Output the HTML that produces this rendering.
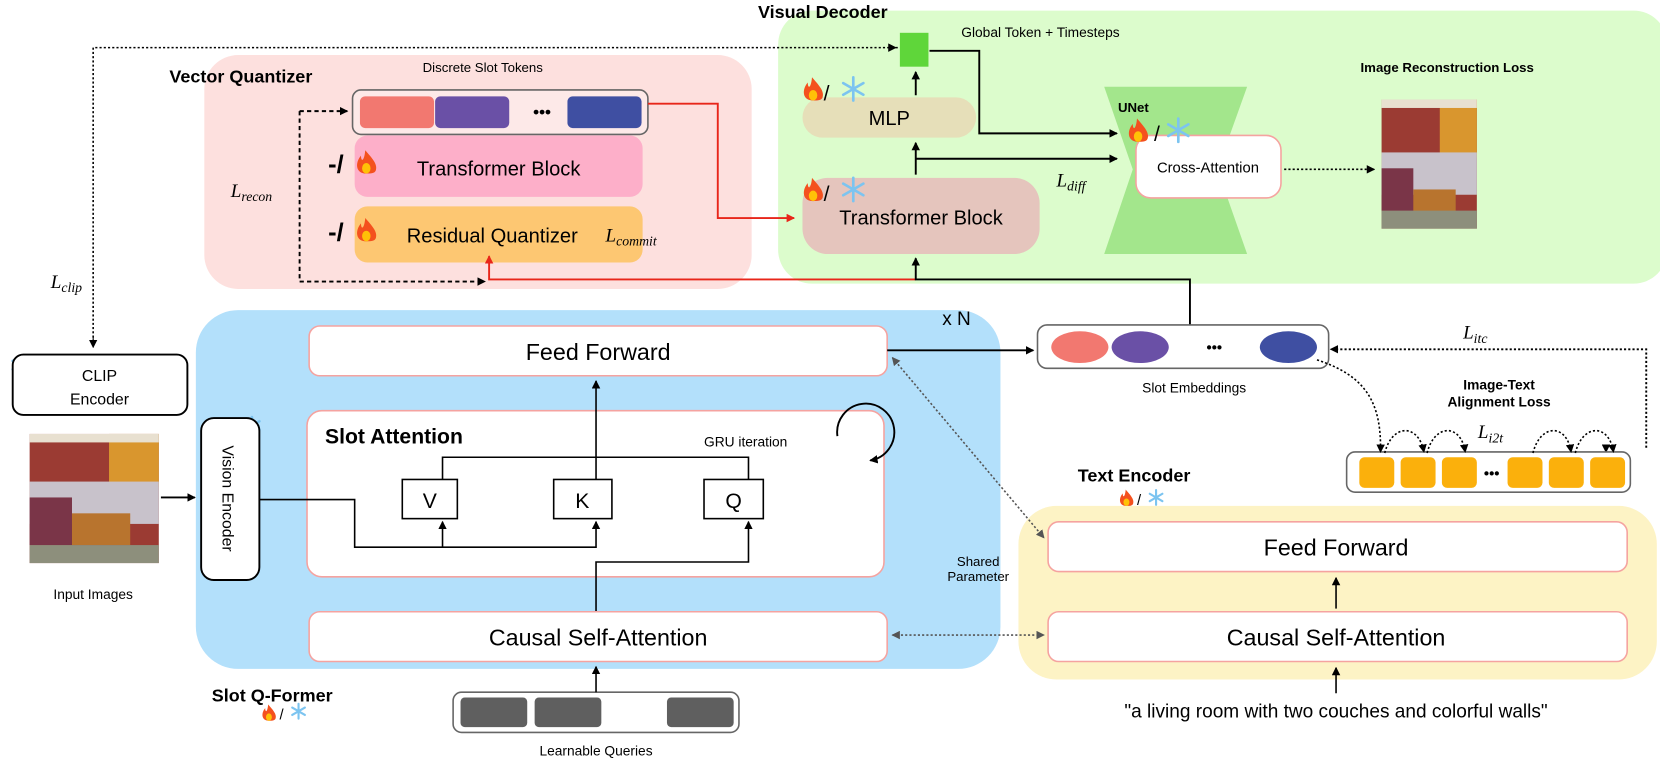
<!DOCTYPE html>
<html><head><meta charset="utf-8"><style>
html,body{margin:0;padding:0;background:#fff;}
svg{display:block;}
text{font-family:"Liberation Sans",sans-serif;fill:#000;}
.it{font-family:"Liberation Serif",serif;font-style:italic;}
</style></head><body>
<svg width="1660" height="761" viewBox="0 0 1568 719" preserveAspectRatio="none" xmlns="http://www.w3.org/2000/svg">
<defs>
<marker id="a" markerWidth="8" markerHeight="8" refX="7" refY="4" orient="auto" markerUnits="userSpaceOnUse"><path d="M0,0 L8,4 L0,8 Z" fill="#000"/></marker>
<marker id="ar" markerWidth="8" markerHeight="8" refX="7" refY="4" orient="auto" markerUnits="userSpaceOnUse"><path d="M0,0 L8,4 L0,8 Z" fill="#e8261a"/></marker>
<marker id="ag" markerWidth="8" markerHeight="8" refX="7" refY="4" orient="auto-start-reverse" markerUnits="userSpaceOnUse"><path d="M0,0 L8,4 L0,8 Z" fill="#555"/></marker>
</defs>

<rect x="193" y="52" width="517" height="221" rx="32" fill="#fde0de"/>
<rect x="735" y="10" width="840" height="258" rx="32" fill="#dcfccc"/>
<rect x="185" y="293" width="760" height="339" rx="40" fill="#b3e0fb"/>
<rect x="962" y="478" width="603" height="164" rx="36" fill="#fdf3c5"/>

<text x="160" y="78" font-size="17" font-weight="bold">Vector Quantizer</text>
<text x="716" y="17" font-size="17" font-weight="bold">Visual Decoder</text>
<text x="456" y="68" font-size="12.5" text-anchor="middle">Discrete Slot Tokens</text>

<rect x="333" y="85" width="279" height="42" rx="8" fill="#fff" fill-opacity="0.3" stroke="#666" stroke-width="1.5"/>
<rect x="340" y="91" width="70" height="30" rx="5" fill="#f27870"/>
<rect x="411" y="91" width="70" height="30" rx="5" fill="#6a50a6"/>
<text x="512" y="111" font-size="16" font-weight="bold" text-anchor="middle">•••</text>
<rect x="536" y="91" width="70" height="30" rx="5" fill="#3f4fa2"/>

<rect x="335" y="128" width="272" height="58" rx="12" fill="#fdafc9"/>
<text x="471" y="166" font-size="19" text-anchor="middle">Transformer Block</text>
<rect x="335" y="195" width="272" height="53" rx="12" fill="#fdc772"/>
<text x="465" y="229" font-size="19" text-anchor="middle">Residual Quantizer</text>
<text x="572" y="228" font-size="18" class="it">L<tspan font-size="13" dy="4">commit</tspan></text>
<text x="310" y="163" font-size="24" font-weight="bold">-/</text>
<text x="310" y="227" font-size="24" font-weight="bold">-/</text>
<text x="218" y="186" font-size="18" class="it">L<tspan font-size="13" dy="4">recon</tspan></text>

<g transform="translate(346,164)"><path d="M0,0 C-10,0 -11,-10 -5,-17 C-5,-11 -2,-11 -1,-22 C5,-15 11,-9 9,-3 C8,0 4,0 0,0Z" fill="#f4511e"/><ellipse cx="0" cy="-5" rx="4" ry="5" fill="#ffc107"/></g>
<g transform="translate(346,228)"><path d="M0,0 C-10,0 -11,-10 -5,-17 C-5,-11 -2,-11 -1,-22 C5,-15 11,-9 9,-3 C8,0 4,0 0,0Z" fill="#f4511e"/><ellipse cx="0" cy="-5" rx="4" ry="5" fill="#ffc107"/></g>

<path d="M283,105 H328" stroke="#000" stroke-width="1.8" stroke-dasharray="4,3" fill="none" marker-end="url(#a)"/>
<path d="M283,105 V266 H458" stroke="#000" stroke-width="1.8" stroke-dasharray="4,3" fill="none" marker-end="url(#a)"/>
<path d="M612,98 H678 V206 H750" stroke="#e8261a" stroke-width="1.8" fill="none" marker-end="url(#ar)"/>
<path d="M865,264 H462 V242" stroke="#e8261a" stroke-width="1.8" fill="none" marker-end="url(#ar)"/>
<path d="M1124,308 V264 H865 V244" stroke="#000" stroke-width="1.8" fill="none" marker-end="url(#a)"/>

<rect x="758" y="92" width="164" height="38" rx="19" fill="#e6dfb9"/>
<text x="840" y="118" font-size="19" text-anchor="middle">MLP</text>
<rect x="758" y="168" width="224" height="72" rx="24" fill="#e5c5bd"/>
<text x="870" y="212" font-size="19" text-anchor="middle">Transformer Block</text>
<rect x="850" y="31" width="27" height="32" fill="#5fd63a"/>
<text x="908" y="35" font-size="13">Global Token + Timesteps</text>
<path d="M865,90 V68" stroke="#000" stroke-width="1.8" marker-end="url(#a)"/>
<path d="M865,165 V135" stroke="#000" stroke-width="1.8" marker-end="url(#a)"/>
<path d="M865,150 H1055" stroke="#000" stroke-width="1.8" fill="none" marker-end="url(#a)"/>
<path d="M878,48 H925 V126 H1055" stroke="#000" stroke-width="1.8" fill="none" marker-end="url(#a)"/>
<text x="998" y="176" font-size="18" class="it">L<tspan font-size="13" dy="4">diff</tspan></text>
<polygon points="1043,82 1178,82 1150,160 1178,240 1043,240 1070,160" fill="#a3e68c"/>
<text x="1056" y="106" font-size="12.5" font-weight="bold">UNet</text>
<rect x="1073" y="128" width="137" height="59" rx="14" fill="#fff" stroke="#f5a3a0" stroke-width="1.5"/>
<text x="1141" y="163" font-size="14" text-anchor="middle">Cross-Attention</text>
<path d="M1213,160 H1298" stroke="#000" stroke-width="1.5" stroke-dasharray="2,2" marker-end="url(#a)"/>
<text x="1367" y="68" font-size="12.5" font-weight="bold" text-anchor="middle">Image Reconstruction Loss</text>
<g transform="translate(1305,94)">
<rect width="90" height="122" fill="#9b3b33"/><rect x="55" width="35" height="55" fill="#d9962e"/><rect x="0" y="0" width="90" height="8" fill="#e8e0d0"/>
<rect x="0" y="50" width="90" height="40" fill="#c8c2cb"/><rect x="0" y="65" width="30" height="40" fill="#7a3548"/>
<rect x="30" y="85" width="40" height="25" fill="#b8742e"/><rect x="0" y="105" width="90" height="17" fill="#8d8f7c"/>
</g>

<text x="778" y="95" font-size="20">/</text>
<text x="778" y="190" font-size="20">/</text>
<text x="1090" y="133" font-size="20">/</text>
<g transform="translate(768,95)"><path d="M0,0 C-10,0 -11,-10 -5,-17 C-5,-11 -2,-11 -1,-22 C5,-15 11,-9 9,-3 C8,0 4,0 0,0Z" fill="#f4511e"/><ellipse cx="0" cy="-5" rx="4" ry="5" fill="#ffc107"/></g>
<g transform="translate(768,190)"><path d="M0,0 C-10,0 -11,-10 -5,-17 C-5,-11 -2,-11 -1,-22 C5,-15 11,-9 9,-3 C8,0 4,0 0,0Z" fill="#f4511e"/><ellipse cx="0" cy="-5" rx="4" ry="5" fill="#ffc107"/></g>
<g transform="translate(1075,134)"><path d="M0,0 C-10,0 -11,-10 -5,-17 C-5,-11 -2,-11 -1,-22 C5,-15 11,-9 9,-3 C8,0 4,0 0,0Z" fill="#f4511e"/><ellipse cx="0" cy="-5" rx="4" ry="5" fill="#ffc107"/></g>
<g stroke="#7cc4f0" stroke-width="2.5" stroke-linecap="round">
<g transform="translate(806,84)"><path d="M0,-11V11M-9.5,-5.5L9.5,5.5M-9.5,5.5L9.5,-5.5"/></g>
<g transform="translate(806,179)"><path d="M0,-11V11M-9.5,-5.5L9.5,5.5M-9.5,5.5L9.5,-5.5"/></g>
<g transform="translate(1113,123)"><path d="M0,-11V11M-9.5,-5.5L9.5,5.5M-9.5,5.5L9.5,-5.5"/></g>
<g transform="translate(19,345)"><path d="M0,-8V8M-7,-4L7,4M-7,4L7,-4"/></g>
<g transform="translate(238,402)"><path d="M0,-8V8M-7,-4L7,4M-7,4L7,-4"/></g>
<g transform="translate(1092,470)" stroke-width="2"><path d="M0,-7V7M-6,-3.5L6,3.5M-6,3.5L6,-3.5"/></g>
<g transform="translate(282,672)" stroke-width="2"><path d="M0,-7V7M-6,-3.5L6,3.5M-6,3.5L6,-3.5"/></g>
</g>
<g transform="translate(1064,478) scale(0.7)"><path d="M0,0 C-10,0 -11,-10 -5,-17 C-5,-11 -2,-11 -1,-22 C5,-15 11,-9 9,-3 C8,0 4,0 0,0Z" fill="#f4511e"/><ellipse cx="0" cy="-5" rx="4" ry="5" fill="#ffc107"/></g>
<text x="1074" y="477" font-size="14">/</text>
<g transform="translate(254,681) scale(0.7)"><path d="M0,0 C-10,0 -11,-10 -5,-17 C-5,-11 -2,-11 -1,-22 C5,-15 11,-9 9,-3 C8,0 4,0 0,0Z" fill="#f4511e"/><ellipse cx="0" cy="-5" rx="4" ry="5" fill="#ffc107"/></g>
<text x="264" y="680" font-size="14">/</text>

<path d="M848,45 H88 V322" stroke="#000" stroke-width="1.5" stroke-dasharray="2,2" fill="none"/>
<path d="M840,45 H846" stroke="#000" marker-end="url(#a)"/>
<path d="M88,318 V328" stroke="#000" marker-end="url(#a)"/>
<text x="48" y="272" font-size="18" class="it">L<tspan font-size="13" dy="4">clip</tspan></text>
<rect x="12" y="335" width="165" height="57" rx="10" fill="#fff" stroke="#000" stroke-width="1.8"/>
<text x="94" y="360" font-size="15" text-anchor="middle">CLIP</text>
<text x="94" y="382" font-size="15" text-anchor="middle">Encoder</text>

<g transform="translate(28,410)">
<rect width="122" height="122" fill="#9b3b33"/><rect x="75" width="47" height="50" fill="#d9962e"/><rect width="122" height="8" fill="#e8e0d0"/>
<rect x="0" y="45" width="122" height="40" fill="#c8c2cb"/><rect x="0" y="60" width="40" height="45" fill="#7a3548"/>
<rect x="40" y="75" width="55" height="30" fill="#b8742e"/><rect x="0" y="105" width="122" height="17" fill="#8d8f7c"/>
</g>
<text x="88" y="566" font-size="13" text-anchor="middle">Input Images</text>
<path d="M152,470 H184" stroke="#000" stroke-width="1.8" marker-end="url(#a)"/>
<rect x="190" y="395" width="55" height="153" rx="12" fill="#fff" stroke="#000" stroke-width="1.8"/>
<text transform="translate(210,471) rotate(90)" font-size="15" text-anchor="middle">Vision Encoder</text>

<text x="890" y="307" font-size="18">x N</text>
<rect x="292" y="308" width="546" height="47" rx="10" fill="#fff" stroke="#f5a3a0" stroke-width="1.5"/>
<text x="565" y="340" font-size="22" text-anchor="middle">Feed Forward</text>
<rect x="290" y="388" width="545" height="157" rx="14" fill="#fff" stroke="#f5a3a0" stroke-width="1.5"/>
<text x="307" y="419" font-size="20" font-weight="bold">Slot Attention</text>
<text x="665" y="422" font-size="13">GRU iteration</text>
<path d="M791,412 A27,27 0 1 1 822,435" stroke="#000" stroke-width="1.8" fill="none" marker-end="url(#a)"/>
<rect x="380" y="453" width="52" height="37" fill="#fff" stroke="#000" stroke-width="1.5"/>
<text x="406" y="480" font-size="20" text-anchor="middle">V</text>
<rect x="523" y="453" width="55" height="37" fill="#fff" stroke="#000" stroke-width="1.5"/>
<text x="550" y="480" font-size="20" text-anchor="middle">K</text>
<rect x="665" y="453" width="56" height="37" fill="#fff" stroke="#000" stroke-width="1.5"/>
<text x="693" y="480" font-size="20" text-anchor="middle">Q</text>
<path d="M418,453 V432 H707 V453" stroke="#000" stroke-width="1.5" fill="none"/>
<path d="M563,453 V360" stroke="#000" stroke-width="1.5" marker-end="url(#a)"/>
<path d="M245,472 H335 V517 H563 V493" stroke="#000" stroke-width="1.5" fill="none" marker-end="url(#a)"/>
<path d="M418,517 V493" stroke="#000" stroke-width="1.5" marker-end="url(#a)"/>
<path d="M563,578 V531 H707 V493" stroke="#000" stroke-width="1.5" fill="none" marker-end="url(#a)"/>
<rect x="292" y="578" width="546" height="47" rx="10" fill="#fff" stroke="#f5a3a0" stroke-width="1.5"/>
<text x="565" y="610" font-size="22" text-anchor="middle">Causal Self-Attention</text>
<text x="200" y="663" font-size="17" font-weight="bold">Slot Q-Former</text>
<rect x="428" y="654" width="270" height="38" rx="8" fill="#fff" stroke="#666" stroke-width="1.5"/>
<rect x="435" y="659" width="63" height="28" rx="4" fill="#5f5f5f"/>
<rect x="505" y="659" width="63" height="28" rx="4" fill="#5f5f5f"/>
<rect x="630" y="659" width="63" height="28" rx="4" fill="#5f5f5f"/>
<path d="M563,654 V630" stroke="#000" stroke-width="1.5" marker-end="url(#a)"/>
<text x="563" y="714" font-size="13" text-anchor="middle">Learnable Queries</text>

<path d="M838,331 H976" stroke="#000" stroke-width="1.8" marker-end="url(#a)"/>
<rect x="980" y="307" width="275" height="41" rx="9" fill="#fff" stroke="#666" stroke-width="1.5"/>
<ellipse cx="1020" cy="328" rx="27" ry="15" fill="#f27870"/>
<ellipse cx="1077" cy="328" rx="27" ry="15" fill="#6a50a6"/>
<text x="1147" y="333" font-size="14" font-weight="bold" text-anchor="middle">•••</text>
<ellipse cx="1217" cy="328" rx="27" ry="15" fill="#3f4fa2"/>
<text x="1128" y="371" font-size="13" text-anchor="middle">Slot Embeddings</text>

<path d="M843,338 L986,508" stroke="#555" stroke-width="1.5" stroke-dasharray="2,2" marker-start="url(#ag)" marker-end="url(#ag)"/>
<path d="M843,600 H986" stroke="#555" stroke-width="1.5" stroke-dasharray="2,2" marker-start="url(#ag)" marker-end="url(#ag)"/>
<text x="924" y="535" font-size="12.5" text-anchor="middle">Shared</text>
<text x="924" y="549" font-size="12.5" text-anchor="middle">Parameter</text>

<text x="1018" y="455" font-size="17" font-weight="bold">Text Encoder</text>
<rect x="990" y="493" width="547" height="47" rx="10" fill="#fff" stroke="#f5a3a0" stroke-width="1.5"/>
<text x="1262" y="525" font-size="22" text-anchor="middle">Feed Forward</text>
<rect x="990" y="578" width="547" height="47" rx="10" fill="#fff" stroke="#f5a3a0" stroke-width="1.5"/>
<text x="1262" y="610" font-size="22" text-anchor="middle">Causal Self-Attention</text>
<path d="M1262,575 V546" stroke="#000" stroke-width="1.5" marker-end="url(#a)"/>
<path d="M1262,655 V631" stroke="#000" stroke-width="1.5" marker-end="url(#a)"/>
<text x="1262" y="678" font-size="18" text-anchor="middle">"a living room with two couches and colorful walls"</text>

<path d="M1258,330 H1555 V425" stroke="#000" stroke-width="1.8" stroke-dasharray="2,2" fill="none"/>
<path d="M1262,330 H1257" stroke="#000" marker-end="url(#a)"/>
<path d="M1517,422 V427" stroke="#000" marker-end="url(#a)"/>
<text x="1382" y="320" font-size="18" class="it">L<tspan font-size="13" dy="4">itc</tspan></text>
<text x="1416" y="368" font-size="13" font-weight="bold" text-anchor="middle">Image-Text</text>
<text x="1416" y="384" font-size="13" font-weight="bold" text-anchor="middle">Alignment Loss</text>
<text x="1396" y="414" font-size="18" class="it">L<tspan font-size="13" dy="4">i2t</tspan></text>
<rect x="1272" y="427" width="268" height="38" rx="8" fill="#fff" stroke="#666" stroke-width="1.5"/>
<g fill="#fbb00c">
<rect x="1284" y="432" width="33" height="29" rx="5"/><rect x="1323" y="432" width="33" height="29" rx="5"/><rect x="1362" y="432" width="33" height="29" rx="5"/>
<rect x="1424" y="432" width="33" height="29" rx="5"/><rect x="1463" y="432" width="33" height="29" rx="5"/><rect x="1502" y="432" width="33" height="29" rx="5"/>
</g>
<text x="1409" y="452" font-size="14" font-weight="bold" text-anchor="middle">•••</text>
<g stroke="#000" stroke-width="1.5" stroke-dasharray="2,2" fill="none">
<path d="M1244,340 C1290,355 1305,380 1304,427" marker-end="url(#a)"/>
<path d="M1308,428 C1315,400 1340,400 1345,427" marker-end="url(#a)"/>
<path d="M1348,428 C1355,400 1380,400 1384,427" marker-end="url(#a)"/>
<path d="M1448,428 C1455,400 1480,400 1484,427" marker-end="url(#a)"/>
<path d="M1488,428 C1495,400 1520,400 1524,427" marker-end="url(#a)"/>
</g>
</svg>
</body></html>
